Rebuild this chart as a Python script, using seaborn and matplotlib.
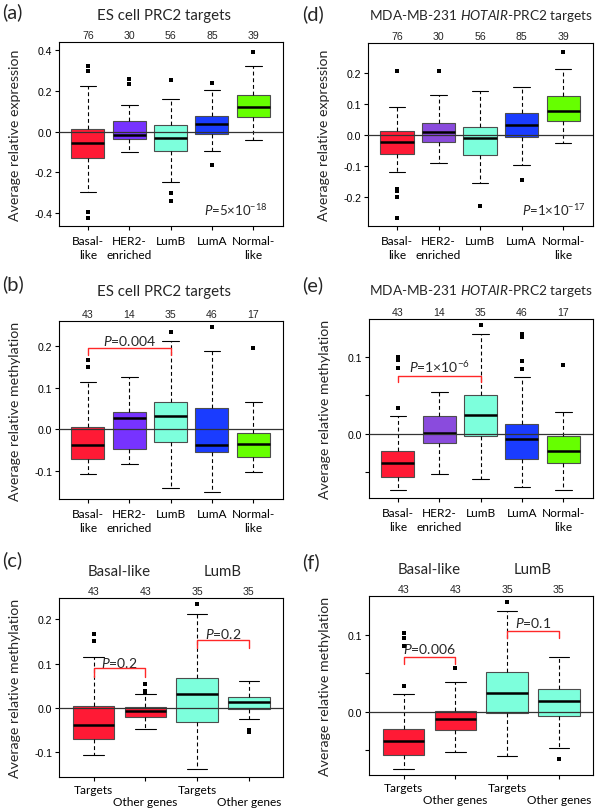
import numpy as np
import pandas as pd
import matplotlib
matplotlib.use("Agg")
import matplotlib.pyplot as plt
import seaborn as sns

# categories
subtypes = ["Basal-like", "HER2-enriched", "LumB", "LumA", "Normal-like"]
subtype_labels = ["Basal-\nlike", "HER2-\nenriched", "LumB", "LumA", "Normal-\nlike"]
pairs = ["Basal Targets", "Basal Other", "LumB Targets", "LumB Other"]
pair_labels = ["Targets", "\nOther genes", "Targets", "\nOther genes"]

n_expr = [76, 30, 56, 85, 39]
n_meth = [43, 14, 35, 46, 17]
n_pair = [43, 43, 35, 35]

# five-number summaries: lower whisker, Q1, median, Q3, upper whisker
a_box = [[-0.296, -0.128, -0.056, 0.015, 0.224],
         [-0.099, -0.038, -0.015, 0.051, 0.132],
         [-0.250, -0.097, -0.033, 0.035, 0.161],
         [-0.094, -0.013, 0.040, 0.079, 0.206],
         [-0.040, 0.072, 0.120, 0.178, 0.324]]
a_out = [[0.321, 0.296, -0.393, -0.426], [0.260, 0.232], [0.255, -0.300, -0.341], [0.239, -0.163], [0.393]]

d_box = [[-0.119, -0.062, -0.025, 0.013, 0.089],
         [-0.090, -0.023, 0.008, 0.038, 0.128],
         [-0.155, -0.066, -0.011, 0.025, 0.141],
         [-0.097, -0.006, 0.032, 0.069, 0.155],
         [-0.028, 0.045, 0.077, 0.126, 0.212]]
d_out = [[0.204, -0.176, -0.183, -0.200, -0.270], [0.204], [-0.230], [-0.147], [0.267]]

b_box = [[-0.107, -0.072, -0.039, 0.004, 0.114],
         [-0.084, -0.047, 0.026, 0.042, 0.125],
         [-0.141, -0.032, 0.032, 0.066, 0.211],
         [-0.152, -0.054, -0.037, 0.050, 0.189],
         [-0.103, -0.066, -0.036, -0.010, 0.065]]
b_out = [[0.166, 0.150], [], [0.234], [0.246], [0.195]]

e_box = [[-0.074, -0.0565, -0.038, -0.023, 0.0235],
         [-0.053, -0.0126, 0.001, 0.023, 0.054],
         [-0.059, -0.003, 0.024, 0.051, 0.131],
         [-0.069, -0.033, -0.0074, 0.0126, 0.074],
         [-0.074, -0.038, -0.0226, -0.003, 0.028]]
e_out = [[0.100, 0.097, 0.086, 0.034], [], [0.142], [0.131, 0.126, 0.095, 0.085], [0.090]]

c_box = [[-0.106, -0.071, -0.039, 0.0045, 0.115],
         [-0.048, -0.021, -0.0068, 0.002, 0.0316],
         [-0.139, -0.032, 0.032, 0.068, 0.211],
         [-0.024, -0.0015, 0.0135, 0.024, 0.061]]
c_out = [[0.166, 0.152], [0.053, 0.038, 0.035], [0.234], [-0.049, -0.054]]

f_box = [[-0.0736, -0.0558, -0.0377, -0.0225, 0.0234],
         [-0.052, -0.0234, -0.010, 0.0013, 0.039],
         [-0.058, -0.0017, 0.0238, 0.051, 0.131],
         [-0.0476, -0.0052, 0.0139, 0.030, 0.0714]]
f_out = [[0.102, 0.096, 0.095, 0.085, 0.034], [0.057], [0.142], [-0.0615]]

red, aqua, blue, green = "#FF1A35", "#7DFFDC", "#1A3CFF", "#66FF00"
es_colors = [red, "#7733FF", aqua, blue, green]
ho_colors = [red, "#8A4BDD", aqua, blue, green]
pair_colors = [red, red, aqua, aqua]

sns.set_style("ticks")
plt.rcParams["font.family"] = ["Lato", "DejaVu Sans"]
plt.rcParams["mathtext.fontset"] = "custom"
plt.rcParams["mathtext.rm"] = "Lato"
plt.rcParams["mathtext.it"] = "Lato:italic"
plt.rcParams["mathtext.bf"] = "Lato:bold"

W, H = 600, 812
fig = plt.figure(figsize=(W / 100, H / 100), dpi=100)


def px_axes(left, top, right, bottom):
    return fig.add_axes([left / W, 1 - bottom / H, (right - left) / W, (bottom - top) / H])


def draw(ax, groups, labels, colors, box, out, counts, ylim, yticks, yticklabels, ylabel):
    df = pd.DataFrame([(g, v) for g, s in zip(groups, box) for v in s], columns=["group", "value"])
    odf = pd.DataFrame([(g, v) for g, s in zip(groups, out) for v in s], columns=["group", "value"])
    sns.boxplot(data=df, x="group", y="value", hue="group", order=groups, hue_order=groups,
                palette=colors, saturation=1, legend=False, whis=(0, 100), width=0.8,
                showfliers=False, linecolor="black", linewidth=0.8,
                whiskerprops=dict(linestyle=(0, (3.5, 2.5))), medianprops=dict(linewidth=1.8),
                ax=ax)
    for p in ax.patches:
        p.set_edgecolor("0.3")
    sns.stripplot(data=odf, x="group", y="value", order=groups, jitter=False, marker="s",
                  color="black", size=2.4, linewidth=0, ax=ax, zorder=4)
    ax.axhline(0, color="0.2", lw=0.9, zorder=3)
    n = len(groups)
    ax.set_xlim(-0.7, n - 1 + 0.72)
    ax.set_ylim(*ylim)
    ax.set_xticks(range(n), labels, fontsize=8.6, linespacing=1.3)
    ax.set_yticks(yticks, yticklabels, fontsize=7.6, fontfamily="Liberation Sans")
    ax.tick_params(axis="both", direction="out", length=3, width=0.8, colors="black")
    ax.tick_params(axis="x", pad=3.5)
    ax.tick_params(axis="y", pad=2)
    ax.set_xlabel("")
    ax.set_ylabel(ylabel, fontsize=10.2)
    ax.yaxis.set_label_coords(-0.17, 0.5)
    for s in ax.spines.values():
        s.set_visible(True)
        s.set_linewidth(0.8)
        s.set_color("black")
    top = ax.secondary_xaxis("top")
    top.set_xticks(range(n), [str(c) for c in counts], fontsize=7.6, fontfamily="Liberation Sans")
    top.tick_params(length=0, pad=1.5)
    top.spines["top"].set_visible(False)


def bracket(ax, i, j, y, drop, text, ty):
    ax.plot([i, i, j, j], [y - drop, y, y, y - drop], color="#FF2828", lw=1.0, zorder=5)
    ax.text((i + j) / 2, ty, text, ha="center", va="center", fontsize=10)


def title(ax, text, ypx, ax_top, ax_h, x=0.5, size=10.8):
    ax.text(x, 1 + (ax_top - ypx) / ax_h, text, transform=ax.transAxes, ha="center",
            va="center", fontsize=size)


def letter(x, y, text):
    fig.text(x / W, 1 - y / H, text, ha="left", va="center", fontsize=14.5)


# (a)
ax = px_axes(59, 43, 283, 227)
draw(ax, subtypes, subtype_labels, es_colors, a_box, a_out, n_expr, (-0.464, 0.441),
     [-0.4, -0.2, 0.0, 0.2, 0.4], ["-0.4", "-0.2", "0.0", "0.2", "0.4"],
     "Average relative expression")
title(ax, "ES cell PRC2 targets", 16, 43, 184, x=0.47)
ax.text(0.93, 0.09, r"$P$=5×10$^{-18}$", transform=ax.transAxes, ha="right", va="center", fontsize=9.5)
letter(2, 12, "(a)")

# (d)
ax = px_axes(368, 44, 593, 227)
draw(ax, subtypes, subtype_labels, ho_colors, d_box, d_out, n_expr, (-0.295, 0.296),
     [-0.2, -0.1, 0.0, 0.1, 0.2], ["-0.2", "-0.1", "0.0", "0.1", "0.2"],
     "Average relative expression")
title(ax, r"MDA-MB-231 $\mathit{HOTAIR}$-PRC2 targets", 16, 44, 183, size=9.8)
ax.text(0.97, 0.093, r"$P$=1×10$^{-17}$", transform=ax.transAxes, ha="right", va="center", fontsize=9.5)
letter(302, 14, "(d)")

# (b)
ax = px_axes(59, 322, 283, 500)
draw(ax, subtypes, subtype_labels, es_colors, b_box, b_out, n_meth, (-0.168, 0.26),
     [-0.1, 0.0, 0.1, 0.2], ["-0.1", "0.0", "0.1", "0.2"],
     "Average relative methylation")
title(ax, "ES cell PRC2 targets", 292, 322, 178, x=0.47)
bracket(ax, 0, 2, 0.195, 0.017, r"$P$=0.004", 0.214)
letter(2, 284, "(b)")

# (e)
ax = px_axes(369, 320, 593, 499)
draw(ax, subtypes, subtype_labels, ho_colors, e_box, e_out, n_meth, (-0.084, 0.150),
     [-0.05, 0.0, 0.05, 0.1], ["", "0.0", "", "0.1"],
     "Average relative methylation")
title(ax, r"MDA-MB-231 $\mathit{HOTAIR}$-PRC2 targets", 291, 320, 179, size=9.8)
bracket(ax, 0, 2, 0.076, 0.009, r"$P$=1×10$^{-6}$", 0.089)
letter(302, 285, "(e)")

# (c)
ax = px_axes(59, 599, 283, 778)
draw(ax, pairs, pair_labels, pair_colors, c_box, c_out, n_pair, (-0.156, 0.248),
     [-0.1, 0.0, 0.1, 0.2], ["-0.1", "0.0", "0.1", "0.2"],
     "Average relative methylation")
ax.set_xlim(-0.67, 3.66)
ax.tick_params(axis="x", pad=2)
for lab in ax.get_xticklabels():
    lab.set_linespacing(1.1)
for x0, name in [(0.5, "Basal-like"), (2.5, "LumB")]:
    ax.text(x0, 1 + 27 / 179, name, transform=ax.get_xaxis_transform(), ha="center", va="center", fontsize=10.8)
bracket(ax, 0, 1, 0.089, 0.019, r"$P$=0.2", 0.104)
bracket(ax, 2, 3, 0.153, 0.018, r"$P$=0.2", 0.168)
letter(2, 560, "(c)")

# (f)
ax = px_axes(369, 597, 593, 776)
draw(ax, pairs, pair_labels, pair_colors, f_box, f_out, n_pair, (-0.082, 0.150),
     [-0.05, 0.0, 0.05, 0.1], ["", "0.0", "", "0.1"],
     "Average relative methylation")
ax.set_xlim(-0.67, 3.66)
ax.tick_params(axis="x", pad=2)
for lab in ax.get_xticklabels():
    lab.set_linespacing(1.1)
for x0, name in [(0.5, "Basal-like"), (2.5, "LumB")]:
    ax.text(x0, 1 + 27 / 179, name, transform=ax.get_xaxis_transform(), ha="center", va="center", fontsize=10.8)
bracket(ax, 0, 1, 0.071, 0.009, r"$P$=0.006", 0.082)
bracket(ax, 2, 3, 0.104, 0.009, r"$P$=0.1", 0.116)
letter(302, 562, "(f)")

fig.savefig("out.png", dpi=100)
